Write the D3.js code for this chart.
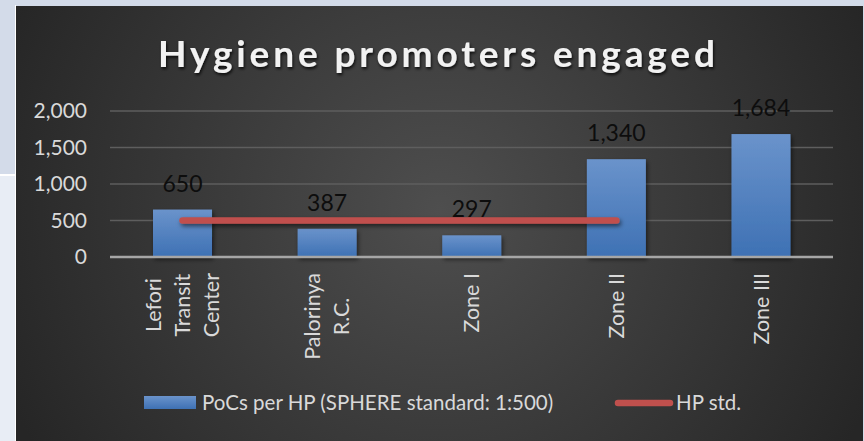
<!DOCTYPE html>
<html>
<head>
<meta charset="utf-8">
<script src="https://cdn.jsdelivr.net/npm/d3@7"></script>
<style>
  body { margin: 0; background: #d3dbe9; }
  svg { display: block; font-family: Lato, "Open Sans", sans-serif; }
</style>
</head>
<body>
<div id="chart"></div>
<script>
// chart data
var categories = [["Lefori", "Transit", "Center"], ["Palorinya", "R.C."], ["Zone I"], ["Zone II"], ["Zone III"]];
var pocsPerHP = [650, 387, 297, 1340, 1684];
var hpStd = [500, 500, 500, 500, null];
var yTicks = [0, 500, 1000, 1500, 2000];
var title = "Hygiene promoters engaged";
var legendLabels = ["PoCs per HP (SPHERE standard: 1:500)", "HP std."];

var width = 864, height = 441;

var svg = d3.select("#chart")
  .append("svg")
  .attr("width", width)
  .attr("height", height);

var defs = svg.append("defs");

// dark panel gradient
var bg = defs.append("radialGradient").attr("id", "bg")
  .attr("gradientUnits", "userSpaceOnUse")
  .attr("cx", 440).attr("cy", 210).attr("r", 470);
bg.append("stop").attr("offset", "0%").attr("stop-color", "#4e4e4e");
bg.append("stop").attr("offset", "100%").attr("stop-color", "#262626");

var barGrad = defs.append("linearGradient").attr("id", "barGrad")
  .attr("x1", 0).attr("y1", 0).attr("x2", 0).attr("y2", 1);
barGrad.append("stop").attr("offset", "0%").attr("stop-color", "#6a93cb");
barGrad.append("stop").attr("offset", "100%").attr("stop-color", "#3e71b4");

// shadow in user space so the flat line keeps it too
var shadow = defs.append("filter").attr("id", "shadow")
  .attr("filterUnits", "userSpaceOnUse")
  .attr("x", 0).attr("y", 0).attr("width", width).attr("height", height);
shadow.append("feDropShadow").attr("dx", 1.5).attr("dy", 2.5)
  .attr("stdDeviation", 2).attr("flood-color", "#000").attr("flood-opacity", 0.55);

var titleShadow = defs.append("filter").attr("id", "titleShadow")
  .attr("filterUnits", "userSpaceOnUse")
  .attr("x", 0).attr("y", 0).attr("width", width).attr("height", 120);
titleShadow.append("feDropShadow").attr("dx", 1).attr("dy", 2)
  .attr("stdDeviation", 1.5).attr("flood-color", "#000").attr("flood-opacity", 0.8);

// page frame around the chart
svg.append("rect").attr("x", 0).attr("y", 0).attr("width", width).attr("height", height).attr("fill", "#d3dbe9");
svg.append("rect").attr("x", 0).attr("y", 176).attr("width", 15).attr("height", height - 176).attr("fill", "#e8edf5");
svg.append("rect").attr("x", 0).attr("y", 174).attr("width", 15).attr("height", 2).attr("fill", "#ffffff");
svg.append("rect").attr("x", 15).attr("y", 5).attr("width", 1).attr("height", height).attr("fill", "#ffffff");
svg.append("rect").attr("x", 16).attr("y", 6).attr("width", 847).attr("height", height - 6).attr("fill", "url(#bg)");

// scales
var x = d3.scaleBand()
  .domain(d3.range(categories.length))
  .range([110.2, 833.3])
  .paddingInner(0.592)
  .paddingOuter(0.296);

var y = d3.scaleLinear()
  .domain([0, 2000])
  .range([257, 111]);

// gridlines
svg.append("g").selectAll("line")
  .data(yTicks.slice(1))
  .enter().append("line")
  .attr("x1", 110).attr("x2", 833)
  .attr("y1", d => y(d)).attr("y2", d => y(d))
  .attr("stroke", "#5e5e5e")
  .attr("stroke-width", 1.5);

// y tick labels
svg.append("g").selectAll("text")
  .data(yTicks)
  .enter().append("text")
  .attr("x", 87)
  .attr("y", d => y(d))
  .attr("dy", "0.35em")
  .attr("text-anchor", "end")
  .attr("fill", "#d9d9d9")
  .attr("font-size", 21)
  .text(d3.format(","));

// bars
svg.append("g").selectAll("rect")
  .data(pocsPerHP)
  .enter().append("rect")
  .attr("x", (d, i) => x(i))
  .attr("y", d => y(d))
  .attr("width", x.bandwidth())
  .attr("height", d => y(0) - y(d))
  .attr("fill", "url(#barGrad)")
  .attr("filter", "url(#shadow)");

// axis line
svg.append("line")
  .attr("x1", 110).attr("x2", 833)
  .attr("y1", y(0)).attr("y2", y(0))
  .attr("stroke", "#a6a6a6")
  .attr("stroke-width", 2.5);

// HP std line
var line = d3.line()
  .defined(d => d != null)
  .x((d, i) => x(i) + x.bandwidth() / 2)
  .y(d => y(d));

svg.append("path")
  .datum(hpStd)
  .attr("d", line)
  .attr("fill", "none")
  .attr("stroke", "#c0504d")
  .attr("stroke-width", 6.5)
  .attr("stroke-linecap", "round")
  .attr("filter", "url(#shadow)");

// data labels
svg.append("g").selectAll("text")
  .data(pocsPerHP)
  .enter().append("text")
  .attr("x", (d, i) => x(i) + x.bandwidth() / 2)
  .attr("y", d => y(d) - 26)
  .attr("dy", "0.35em")
  .attr("text-anchor", "middle")
  .attr("fill", "#0d0d0d")
  .attr("font-size", 23)
  .text(d3.format(","));

// category labels, rotated, wrapped lines centred in a block
var catG = svg.append("g").selectAll("g")
  .data(categories)
  .enter().append("g")
  .attr("transform", (d, i) => "translate(" + (x(i) + x.bandwidth() / 2) + ",273) rotate(-90)");

catG.each(function(lines) {
  var g = d3.select(this);
  var texts = g.selectAll("text")
    .data(lines)
    .enter().append("text")
    .attr("y", (d, j) => (j - (lines.length - 1) / 2) * 28.7)
    .attr("dy", "0.35em")
    .attr("text-anchor", "middle")
    .attr("fill", "#d9d9d9")
    .attr("font-size", 21.5)
    .text(d => d);
  var maxLen = d3.max(texts.nodes(), n => n.getComputedTextLength());
  texts.attr("x", -maxLen / 2);
});

// title
svg.append("text")
  .attr("x", 436.5)
  .attr("y", 67)
  .attr("text-anchor", "middle")
  .attr("fill", "#f2f2f2")
  .attr("font-size", 37)
  .attr("font-weight", "bold")
  .attr("textLength", 557)
  .attr("lengthAdjust", "spacing")
  .attr("filter", "url(#titleShadow)")
  .text(title);

// legend
var legend = svg.append("g");
legend.append("rect")
  .attr("x", 144).attr("y", 396)
  .attr("width", 52).attr("height", 13)
  .attr("fill", "url(#barGrad)");
legend.append("text")
  .attr("x", 202).attr("y", 403)
  .attr("dy", "0.35em")
  .attr("fill", "#d9d9d9")
  .attr("font-size", 20.5)
  .text(legendLabels[0]);
legend.append("line")
  .attr("x1", 618).attr("x2", 670)
  .attr("y1", 403).attr("y2", 403)
  .attr("stroke", "#c0504d")
  .attr("stroke-width", 6.5)
  .attr("stroke-linecap", "round");
legend.append("text")
  .attr("x", 676).attr("y", 403)
  .attr("dy", "0.35em")
  .attr("fill", "#d9d9d9")
  .attr("font-size", 20.5)
  .text(legendLabels[1]);
</script>
</body>
</html>
